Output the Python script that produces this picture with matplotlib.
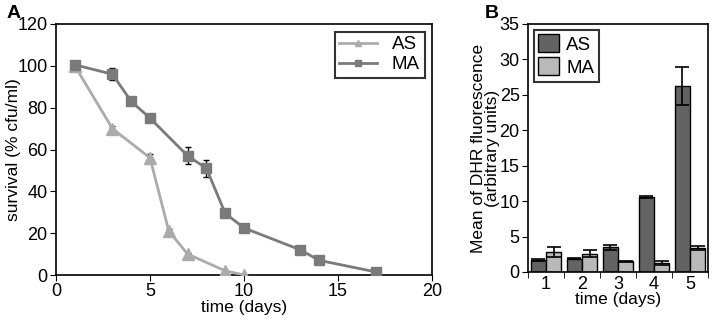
import matplotlib
matplotlib.use("Agg")
import matplotlib.pyplot as plt
import numpy as np
from matplotlib.lines import Line2D

plt.rcParams['font.family'] = ['Liberation Sans', 'DejaVu Sans']

# Panel A data
as_days = [1, 3, 5, 6, 7, 9, 10]
as_surv = [100, 70, 56, 21, 10, 2, 0]
as_err = [0.5, 1.0, 2.0, 0.8, 0.5, 0.3, 0.2]
ma_days = [1, 3, 4, 5, 7, 8, 9, 10, 13, 14, 17]
ma_surv = [100.5, 96, 83, 75, 57, 51, 29.5, 22.5, 12, 7, 1.5]
ma_err = [1.0, 2.8, 0.5, 0.5, 4.0, 4.0, 0.5, 0.5, 0.5, 0.5, 0.5]

# Panel B data
b_days = ['1', '2', '3', '4', '5']
b_as = [1.7, 1.9, 3.5, 10.6, 26.3]
b_as_err = [0.1, 0.1, 0.35, 0.1, 2.7]
b_ma = [2.8, 2.6, 1.5, 1.3, 3.4]
b_ma_err = [0.75, 0.45, 0.1, 0.3, 0.3]

fig = plt.figure(figsize=(7.13, 3.2), dpi=100)
W, H = 713, 320
axA = fig.add_axes([56 / W, 1 - 275 / H, (432 - 56) / W, (275 - 24) / H])
axB = fig.add_axes([528 / W, 1 - 272 / H, (708 - 528) / W, (272 - 24) / H])

c_as = '#ababab'
c_ma = '#7a7a7a'
axA.errorbar(as_days, as_surv, yerr=as_err, color=c_as, marker='^', markersize=8.5,
             lw=2, ecolor='black', elinewidth=1, capsize=2.5, zorder=3)
axA.errorbar(ma_days, ma_surv, yerr=ma_err, color=c_ma, marker='s', markersize=7.5,
             lw=2, ecolor='black', elinewidth=1, capsize=2.5, zorder=3)
axA.set_xlim(0, 20)
axA.set_ylim(0, 120)
axA.set_xticks([0, 5, 10, 15, 20])
axA.set_yticks(range(0, 121, 20))
axA.tick_params(labelsize=13, direction='out', length=4, pad=2)
axA.set_xlabel('time (days)', fontsize=12.5, labelpad=0)
axA.set_ylabel('survival (% cfu/ml)', fontsize=12.5, va='center')
axA.yaxis.set_label_coords(-0.112, 0.5)
handlesA = [Line2D([], [], color=c_as, marker='^', markersize=5, lw=2, label='AS'),
            Line2D([], [], color=c_ma, marker='s', markersize=5, lw=2, label='MA')]
legA = axA.legend(handles=handlesA, loc='upper right', fontsize=13.5, fancybox=False,
                  edgecolor='black', handlelength=2.0, borderpad=0.25, labelspacing=0.15,
                  handletextpad=0.8, borderaxespad=0.4)
legA.get_frame().set_linewidth(1.5)

x = np.arange(len(b_days))
bw = 0.42
axB.bar(x - bw / 2, b_as, bw, yerr=b_as_err, color='#636363', edgecolor='black', lw=1,
        capsize=5, error_kw=dict(elinewidth=1.2, capthick=1.2), label='AS')
axB.bar(x + bw / 2, b_ma, bw, yerr=b_ma_err, color='#b9b9b9', edgecolor='black', lw=1,
        capsize=5, error_kw=dict(elinewidth=1.2, capthick=1.2), label='MA')
axB.set_xlim(-0.5, len(b_days) - 0.5)
axB.set_ylim(0, 35)
axB.set_yticks(range(0, 36, 5))
axB.set_xticks(x)
axB.set_xticklabels(b_days)
axB.set_xticks(np.arange(-0.5, len(b_days), 1), minor=True)
axB.tick_params(axis='x', which='major', length=0, labelsize=13, pad=3)
axB.tick_params(axis='x', which='minor', length=4)
axB.tick_params(axis='y', labelsize=13, length=4, pad=2)
axB.set_xlabel('time (days)', fontsize=12.5, labelpad=-1)
axB.set_ylabel('Mean of DHR fluorescence\n(arbitrary units)', fontsize=12.5,
               linespacing=0.95, va='center')
axB.yaxis.set_label_coords(-0.235, 0.5)
legB = axB.legend(loc='upper left', fontsize=13.5, fancybox=False, edgecolor='black',
                  handlelength=1.1, handleheight=1.1, borderpad=0.25, labelspacing=0.2,
                  handletextpad=0.4, borderaxespad=0.3)
legB.get_frame().set_linewidth(1.5)

for ax in (axA, axB):
    for s in ax.spines.values():
        s.set_linewidth(1.2)

fig.text(7 / W, 1 - 13 / H, 'A', fontsize=14, fontweight='bold', va='center')
fig.text(485 / W, 1 - 13 / H, 'B', fontsize=14, fontweight='bold', va='center')

fig.savefig('out.png', dpi=100)
